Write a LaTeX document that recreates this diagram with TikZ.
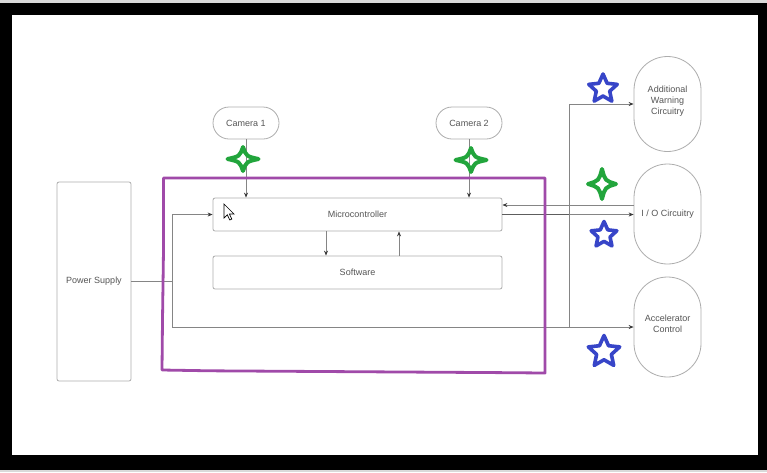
\documentclass[tikz,border=0pt]{standalone}
\usepackage{fontspec}
\setmainfont{Liberation Sans}
\usetikzlibrary{arrows.meta}
\definecolor{txt}{HTML}{555555}
\definecolor{edge}{HTML}{ADADAD}
\definecolor{wire}{HTML}{858585}
\definecolor{tipc}{HTML}{3A3A3A}
\definecolor{markup}{HTML}{A04AA9}
\definecolor{leaf}{HTML}{22A53C}
\definecolor{ink}{HTML}{3745C8}

\tikzset{
  % four-pointed sparkle outline
  sparkle/.pic={
    \draw[leaf, line width=4pt, line join=round]
      (1,0) .. controls (0.22,0.22) .. (0,1)
            .. controls (-0.22,0.22) .. (-1,0)
            .. controls (-0.22,-0.22) .. (0,-1)
            .. controls (0.22,-0.22) .. (1,0) -- cycle;
  },
  % five-pointed star outline
  starmark/.pic={
    \draw[ink, line width=3.6pt, line join=round]
      (-90:1) -- (-54:0.47) -- (-18:1) -- (18:0.47) -- (54:1) -- (90:0.47)
      -- (126:1) -- (162:0.47) -- (198:1) -- (234:0.47) -- cycle;
  }
}

\begin{document}
\begin{tikzpicture}[x=1pt, y=-1pt,
  font=\fontsize{9}{11}\selectfont,
  box/.style={draw=edge, line width=0.8pt, rounded corners=2pt, text=txt,
              inner sep=0pt, align=center},
  pill/.style={box, rounded corners=#1},
  lift/.style={label={[text=txt, align=center, yshift=3pt]center:#1}},
  wireline/.style={draw=wire, line width=0.7pt},
  arr/.style={wireline, -{Stealth[length=5pt, width=4pt, color=tipc]}}
]
\useasboundingbox (0,0) rectangle (767,472);

% screen frame
\fill[black!15] (0,0) rectangle (767,472);
\fill[black] (0,3) rectangle (767,470);
\fill[white] (12,15) rectangle (758,455);

% blocks
\node[box, minimum width=74pt, minimum height=199pt] (ps) at (94,281.5) {Power Supply};
\node[pill=16pt, minimum width=66pt, minimum height=32pt] (cam1) at (246,123) {Camera 1};
\node[pill=16pt, minimum width=66pt, minimum height=32pt] (cam2) at (469,123) {Camera 2};
\node[box, minimum width=289pt, minimum height=33pt] (mcu) at (357.5,214.5) {Microcontroller};
\node[box, minimum width=289pt, minimum height=33pt] (sw) at (357.5,272.5) {Software};
\node[pill=33.5pt, minimum width=67pt, minimum height=95pt,
      lift={Additional\\Warning\\Circuitry}] (warn) at (667.5,104) {};
\node[pill=33.5pt, minimum width=67pt, minimum height=100pt] (io) at (667.5,214) {I / O Circuitry};
\node[pill=33.5pt, minimum width=67pt, minimum height=100pt,
      lift={Accelerator\\Control}] (acc) at (667.5,327) {};

% routing columns and rows
\coordinate (dn) at (326,0);
\coordinate (up) at (399,0);
\coordinate (lbus) at (172,0);
\coordinate (rbus) at (569,0);
\coordinate (back) at (0,205);

% cameras into the microcontroller
\draw[arr] (cam1.south) -- (cam1.south |- mcu.north);
\draw[arr] (cam2.south) -- (cam2.south |- mcu.north);

% microcontroller <-> software
\draw[arr] (dn |- mcu.south) -- (dn |- sw.north);
\draw[arr] (up |- sw.north) -- (up |- mcu.south);

% power distribution loop
\draw[wireline] (ps.east) -- (lbus |- ps.east);
\draw[arr] (lbus |- acc.west) -- (lbus |- mcu.west) -- (mcu.west);
\draw[arr] (lbus |- acc.west) -- (acc.west);

% output bus on the right
\draw[wireline, draw=wire!70!black] (mcu.east) -- (rbus |- mcu.east);
\draw[arr] (rbus |- mcu.east) -- (mcu.east -| io.west);
\draw[arr] (rbus |- acc.west) -- (rbus |- warn.west) -- (warn.west);
\draw[arr] (io.west |- back) -- (mcu.east |- back);

% hand-drawn highlight frame
\draw[markup, line width=2.8pt, line join=round]
  (163.5,178) -- (545,178) -- (545,373) -- (497,372.6) -- (402,372) -- (306,371.4)
  -- (210,370.8) -- (162,370) -- (162.5,320) -- (163.5,250) -- cycle;

% annotation marks
\pic[xscale=15.5, yscale=12] at (243,159) {sparkle};
\pic[xscale=15.5, yscale=12] at (471,160) {sparkle};
\pic[xscale=14, yscale=15] at (602,184) {sparkle};
\pic[scale=15] at (603,89) {starmark};
\pic[scale=13.5] at (604,235) {starmark};
\pic[scale=16.5] at (604,352) {starmark};

% mouse pointer
\draw[fill=white, draw=black, line width=0.7pt, line join=miter]
  (224,204) -- ++(0,14) -- ++(3.3,-3.2) -- ++(2.5,5.2) -- ++(2,-1)
  -- ++(-2.4,-5) -- ++(4.6,0) -- cycle;
\end{tikzpicture}
\end{document}
